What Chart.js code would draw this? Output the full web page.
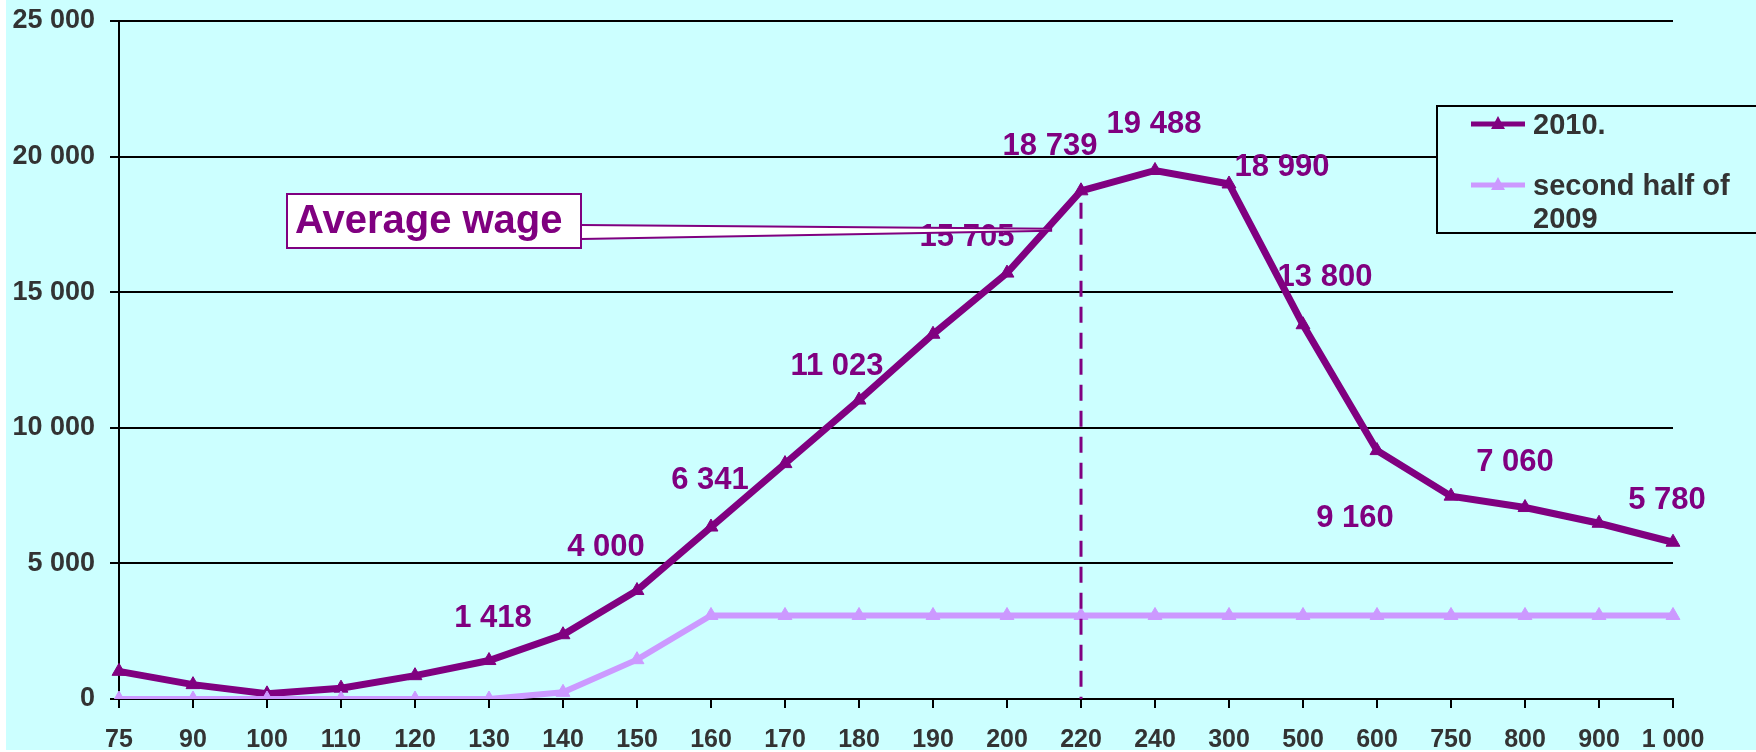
<!DOCTYPE html>
<html lang="en">
<head>
<meta charset="UTF-8">
<title>Wage distribution</title>
<script src="https://cdn.jsdelivr.net/npm/chart.js"></script>
<style>
  html, body { margin: 0; padding: 0; background: #fff; }
  #wrap { width: 1756px; height: 752px; }
</style>
</head>
<body>
<div id="wrap"><canvas id="wageChart" width="1756" height="752"></canvas></div>
<script>
// wage bands on the x axis
const wageBands = ['75', '90', '100', '110', '120', '130', '140', '150', '160', '170', '180',
                   '190', '200', '220', '240', '300', '500', '600', '750', '800', '900', '1 000'];

// number of people per band
const count2010 = [1020, 530, 190, 400, 860, 1418, 2370, 4000, 6341, 8680, 11023,
                   13450, 15705, 18739, 19488, 18990, 13800, 9160, 7480, 7060, 6480, 5780];
const count2009h2 = [0, 0, 0, 0, 0, 0, 245, 1450, 3080, 3080, 3080,
                     3080, 3080, 3080, 3080, 3080, 3080, 3080, 3080, 3080, 3080, 3080];

const seriesNames = ['2010.', 'second half of 2009'];

// bands of the 2010 line that carry a value label
const labelled2010 = [5, 7, 8, 10, 12, 13, 14, 15, 16, 17, 19, 21];

const yTicks = [0, 5000, 10000, 15000, 20000, 25000];

const FONT = '"Liberation Sans", Arial, Helvetica, sans-serif';
const DARK = '#800080';
const LIGHT = '#CC99FF';

function fmt(v) {
    return String(v).replace(/\B(?=(\d{3})+(?!\d))/g, ' ');
}

// label offsets from their point, in px, same order as labelled2010
const labelOffsets = [[4, -42], [-31, -43], [-1, -47], [-22, -34], [-40, -36], [-31, -44],
                      [-1, -46], [53, -17], [22, -47], [-22, 68], [-10, -45], [-6, -42]];

const decor = {
    id: 'decor',
    beforeDraw(chart) {
        const ctx = chart.ctx;
        ctx.save();
        ctx.fillStyle = '#fff';
        ctx.fillRect(0, 0, chart.width, chart.height);
        ctx.fillStyle = '#CCFFFF';
        ctx.fillRect(6, 0, chart.width - 6, chart.height - 2);
        ctx.restore();
    },
    afterDatasetsDraw(chart) {
        const ctx = chart.ctx;
        const x = chart.scales.x, y = chart.scales.y;

        ctx.save();

        // dashed drop line under the 220 band
        const px = x.getPixelForValue(13);
        const py = y.getPixelForValue(count2010[13]);
        ctx.strokeStyle = DARK;
        ctx.lineWidth = 3;
        ctx.setLineDash([16, 10]);
        ctx.beginPath();
        ctx.moveTo(px, py + 12);
        ctx.lineTo(px, y.getPixelForValue(0));
        ctx.stroke();
        ctx.setLineDash([]);

        // value labels
        ctx.font = 'bold 31px ' + FONT;
        ctx.fillStyle = DARK;
        ctx.textAlign = 'center';
        ctx.textBaseline = 'middle';
        labelled2010.forEach((i, k) => {
            const o = labelOffsets[k];
            ctx.fillText(fmt(count2010[i]), x.getPixelForValue(i) + o[0], y.getPixelForValue(count2010[i]) + o[1]);
        });

        // "Average wage" callout
        const step = x.getPixelForValue(1) - x.getPixelForValue(0);
        const tipX = x.getPixelForValue(12) + 0.61 * step;
        const tipY = y.getPixelForValue(17300);
        const bx = 287, by = 194, bw = 294, bh = 54;
        ctx.fillStyle = '#fff';
        ctx.strokeStyle = DARK;
        ctx.lineWidth = 2;
        ctx.beginPath();
        ctx.moveTo(bx + bw, 225);
        ctx.lineTo(tipX, tipY - 1);
        ctx.lineTo(tipX, tipY + 1);
        ctx.lineTo(bx + bw, 239);
        ctx.closePath();
        ctx.fill();
        ctx.beginPath();
        ctx.moveTo(bx + bw, 225);
        ctx.lineTo(tipX, tipY - 1);
        ctx.moveTo(bx + bw, 239);
        ctx.lineTo(tipX, tipY + 1);
        ctx.stroke();
        ctx.fillRect(bx, by, bw, bh);
        ctx.strokeRect(bx, by, bw, bh);
        ctx.fillStyle = DARK;
        ctx.font = 'bold 40px ' + FONT;
        ctx.textAlign = 'left';
        ctx.fillText('Average wage', bx + 8, by + bh / 2 + 1);

        // legend
        const lx = 1437, ly = 106;
        ctx.fillStyle = '#CCFFFF';
        ctx.fillRect(lx, ly, 330, 127);
        ctx.strokeStyle = '#000';
        ctx.lineWidth = 2;
        ctx.strokeRect(lx, ly, 330, 127);
        ctx.font = 'bold 29px ' + FONT;
        ctx.textBaseline = 'middle';
        const rows = [124, 185];
        chart.data.datasets.forEach((ds, k) => {
            const ry = rows[k];
            ctx.strokeStyle = ds.borderColor;
            ctx.lineWidth = 5;
            ctx.beginPath();
            ctx.moveTo(1471, ry);
            ctx.lineTo(1525, ry);
            ctx.stroke();
            ctx.fillStyle = ds.borderColor;
            ctx.beginPath();
            ctx.moveTo(1498, ry - 8);
            ctx.lineTo(1505, ry + 5);
            ctx.lineTo(1491, ry + 5);
            ctx.closePath();
            ctx.fill();
            // wrap legend text
            const words = ds.label.split(' ');
            const lines = [];
            let cur = '';
            words.forEach(w => {
                const t = cur ? cur + ' ' + w : w;
                if (ctx.measureText(t).width > 215 && cur) { lines.push(cur); cur = w; }
                else cur = t;
            });
            lines.push(cur);
            ctx.fillStyle = '#333';
            lines.forEach((l, j) => ctx.fillText(l, 1533, ry + 2 + j * 33));
        });

        ctx.restore();
    }
};

const ctx = document.getElementById('wageChart').getContext('2d');

new Chart(ctx, {
    type: 'line',
    data: {
        labels: wageBands,
        datasets: [{
            label: seriesNames[0],
            data: count2010,
            borderColor: DARK,
            backgroundColor: DARK,
            borderWidth: 7,
            pointStyle: 'triangle',
            pointRadius: 8,
            pointBorderWidth: 1,
            tension: 0,
            order: 1
        }, {
            label: seriesNames[1],
            data: count2009h2,
            borderColor: LIGHT,
            backgroundColor: LIGHT,
            borderWidth: 6,
            pointStyle: 'triangle',
            pointRadius: 8,
            pointBorderWidth: 1,
            tension: 0,
            order: 0
        }]
    },
    options: {
        responsive: false,
        animation: false,
        layout: { padding: { top: 21, right: 83, left: 0, bottom: 0 } },
        plugins: {
            legend: { display: false },
            tooltip: { enabled: false }
        },
        scales: {
            x: {
                grid: { drawOnChartArea: false, drawTicks: true, tickLength: 9, color: '#000', lineWidth: 2 },
                border: { color: '#000', width: 2 },
                ticks: {
                    color: '#333',
                    font: { family: FONT, size: 25, weight: 'bold' },
                    padding: 17,
                    maxRotation: 0,
                    autoSkip: false
                },
                afterFit(s) {
                    s.height = 53;
                    s.paddingLeft = 0;
                    s.paddingRight = 0;
                }
            },
            y: {
                min: 0,
                max: 25000,
                afterBuildTicks(s) { s.ticks = yTicks.map(v => ({ value: v })); },
                ticks: {
                    callback: v => fmt(v),
                    color: '#333',
                    font: { family: FONT, size: 27, weight: 'bold' },
                    padding: 15
                },
                grid: { color: '#000', lineWidth: 2, tickLength: 9 },
                border: { color: '#000', width: 2 },
                afterFit(s) {
                    s.width = 119;
                    s.paddingTop = 0;
                    s.paddingBottom = 0;
                }
            }
        }
    },
    plugins: [decor]
});
</script>
</body>
</html>
